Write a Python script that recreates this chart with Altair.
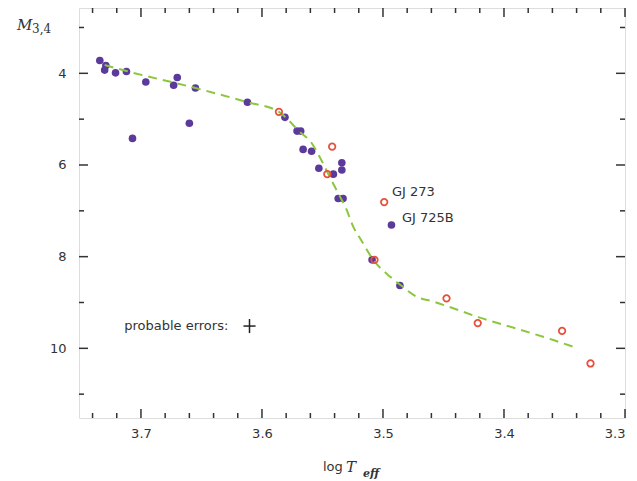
import altair as alt
import pandas as pd

# filled (purple) stars
p_x = [3.734, 3.729, 3.730, 3.721, 3.712, 3.696, 3.670, 3.673, 3.655, 3.612,
       3.581, 3.571, 3.568, 3.566, 3.559, 3.553, 3.541, 3.534, 3.534, 3.537,
       3.533, 3.493, 3.509, 3.486, 3.660, 3.707]
p_y = [3.72, 3.83, 3.93, 3.99, 3.96, 4.19, 4.09, 4.26, 4.32, 4.63,
       4.96, 5.26, 5.26, 5.66, 5.70, 6.07, 6.20, 5.95, 6.11, 6.73,
       6.73, 7.31, 8.07, 8.63, 5.09, 5.42]

# open (red) circles
r_x = [3.586, 3.542, 3.546, 3.499, 3.507, 3.4475, 3.4217, 3.352, 3.3285]
r_y = [4.84, 5.60, 6.20, 6.81, 8.07, 8.91, 9.45, 9.62, 10.33]

# dashed relation
l_x = [3.730, 3.712, 3.655, 3.612, 3.586, 3.581, 3.569, 3.559, 3.551, 3.544,
       3.5355, 3.531, 3.5245, 3.518, 3.508, 3.494, 3.485, 3.4722, 3.4585, 3.447,
       3.420, 3.387, 3.358, 3.340]
l_y = [3.82, 3.95, 4.32, 4.63, 4.84, 4.95, 5.27, 5.52, 5.89, 6.26,
       6.69, 6.92, 7.35, 7.64, 8.07, 8.44, 8.63, 8.875, 8.98, 9.08,
       9.33, 9.59, 9.83, 9.99]

# annotations
lab_text = ["GJ 273", "GJ 725B"]
lab_x = [3.4926, 3.4843]
lab_y = [6.59, 7.146]

err_text = ["probable errors:"]
err_text_x = [3.6278]
err_cx = [3.6103]
err_cy = [9.514]
err_dx = [0.005]
err_dy = [0.153]

# axis ticks
x_major = [3.7, 3.6, 3.5, 3.4, 3.3]
x_minor = [3.74, 3.72, 3.68, 3.66, 3.64, 3.62, 3.58, 3.56, 3.54, 3.52,
           3.48, 3.46, 3.44, 3.42, 3.38, 3.36, 3.34, 3.32]
y_major = [4, 6, 8, 10]
y_minor = [3, 5, 7, 9, 11]

W, H = 546, 410
PURPLE = "#5b3a9c"
RED = "#e8503c"
GREEN = "#8cc63f"
INK = "#333333"

xscale = alt.Scale(domain=[3.3, 3.7512], reverse=True, nice=False, zero=False)
yscale = alt.Scale(domain=[2.575, 11.52], reverse=True, nice=False, zero=False)

xaxis = alt.Axis(values=x_major, format=".1f", ticks=False, tickSize=0, domain=False,
                 grid=False, labelFontSize=13, labelFont="DejaVu Sans", labelColor=INK,
                 labelPadding=9, title=None, labelFlush=True, labelOverlap=False)
yaxis = alt.Axis(values=y_major, format="d", ticks=False, tickSize=0, domain=False,
                 grid=False, labelFontSize=13, labelFont="DejaVu Sans", labelColor=INK,
                 labelPadding=13, title=None, labelFlush=False, labelOverlap=False)


def X(f):
    return alt.X(f, type="quantitative", scale=xscale, axis=xaxis)


def Y(f):
    return alt.Y(f, type="quantitative", scale=yscale, axis=yaxis)


pts = pd.DataFrame({"x": p_x, "y": p_y})
opn = pd.DataFrame({"x": r_x, "y": r_y})
ln = pd.DataFrame({"x": l_x, "y": l_y})
labs = pd.DataFrame({"x": lab_x, "y": lab_y, "t": lab_text})
errl = pd.DataFrame({"x": err_text_x, "y": err_cy, "t": err_text})
errh = pd.DataFrame({"x": [err_cx[0] - err_dx[0]], "x2": [err_cx[0] + err_dx[0]], "y": err_cy})
errv = pd.DataFrame({"x": err_cx, "y": [err_cy[0] - err_dy[0]], "y2": [err_cy[0] + err_dy[0]]})

layers = []


def xticks(vals, length, top):
    df = pd.DataFrame({"v": vals})
    if top:
        enc = dict(y=alt.value(0), y2=alt.value(length))
    else:
        enc = dict(y=alt.value(H), y2=alt.value(H - length))
    return alt.Chart(df).mark_rule(color=INK, strokeWidth=1.5).encode(x=X("v"), **enc)


def yticks(vals, length, left):
    df = pd.DataFrame({"v": vals})
    if left:
        enc = dict(x=alt.value(0), x2=alt.value(length))
    else:
        enc = dict(x=alt.value(W), x2=alt.value(W - length))
    return alt.Chart(df).mark_rule(color=INK, strokeWidth=1.5).encode(y=Y("v"), **enc)


for top in (True, False):
    layers.append(xticks(x_major, 9, top))
    layers.append(xticks(x_minor, 5, top))
for left in (True, False):
    layers.append(yticks(y_major, 9, left))
    layers.append(yticks(y_minor, 5, left))

purple = alt.Chart(pts).mark_circle(size=58, color=PURPLE, opacity=1).encode(x=X("x"), y=Y("y"))
line = alt.Chart(ln).mark_line(color=GREEN, strokeWidth=2, strokeDash=[9, 6],
                               interpolate="monotone").encode(x=X("x"), y=Y("y"))
red = alt.Chart(opn).mark_point(shape="circle", filled=False, size=42, strokeWidth=1.8,
                                color=RED, opacity=1).encode(x=X("x"), y=Y("y"))
names = alt.Chart(labs).mark_text(align="left", baseline="middle", fontSize=13,
                                  font="DejaVu Sans", color=INK).encode(x=X("x"), y=Y("y"), text="t:N")
errlab = alt.Chart(errl).mark_text(align="right", baseline="middle", fontSize=13,
                                   font="DejaVu Sans", color=INK).encode(x=X("x"), y=Y("y"), text="t:N")
eh = alt.Chart(errh).mark_rule(color="#222", strokeWidth=1.5).encode(x=X("x"), x2="x2:Q", y=Y("y"))
ev = alt.Chart(errv).mark_rule(color="#222", strokeWidth=1.5).encode(x=X("x"), y=Y("y"), y2="y2:Q")

one = pd.DataFrame({"k": [0]})
t_log = alt.Chart(one).mark_text(text="log", align="left", baseline="alphabetic", fontSize=13,
                                 font="DejaVu Sans", color=INK).encode(x=alt.value(244), y=alt.value(463))
t_T = alt.Chart(one).mark_text(text="T", align="left", baseline="alphabetic", fontSize=15,
                               font="DejaVu Serif", fontStyle="italic", color=INK).encode(x=alt.value(267), y=alt.value(464))
t_eff = alt.Chart(one).mark_text(text="eff", align="left", baseline="alphabetic", fontSize=11,
                                 font="DejaVu Serif", fontStyle="italic", fontWeight="bold",
                                 color=INK).encode(x=alt.value(284), y=alt.value(469))
t_M = alt.Chart(one).mark_text(text="M", align="left", baseline="alphabetic", fontSize=15,
                               font="DejaVu Serif", fontStyle="italic", color=INK).encode(x=alt.value(-62), y=alt.value(22))
t_34 = alt.Chart(one).mark_text(text="3,4", align="left", baseline="alphabetic", fontSize=12,
                                font="DejaVu Serif", color=INK).encode(x=alt.value(-47), y=alt.value(25))

layers += [purple, line, red, names, errlab, eh, ev, t_log, t_T, t_eff, t_M, t_34]

chart = alt.layer(*layers).properties(
    width=W, height=H, autosize="none",
    padding={"left": 71, "top": 0, "right": 4, "bottom": 64},
).configure_view(stroke="#2e2e2e", strokeWidth=2).configure(background="white")

chart.save("out.html", embed_options={"renderer": "svg", "actions": False})
